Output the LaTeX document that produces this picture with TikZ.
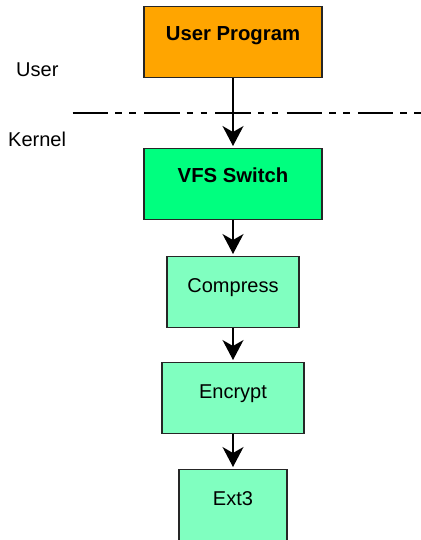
\documentclass[tikz,border=0pt]{standalone}
\usepackage{fontspec}
\setmainfont{Liberation Sans}
\usetikzlibrary{arrows.meta}
\definecolor{orangebox}{RGB}{255,165,0}
\definecolor{vfsgreen}{RGB}{0,255,127}
\definecolor{lightgreen}{RGB}{128,255,192}
\begin{document}
\begin{tikzpicture}[x=1pt,y=-1pt,
  box/.style={draw=black!85, line width=1.3pt, inner sep=0pt, text height=35.5pt, text depth=35.5pt, anchor=north, font=\fontsize{20}{24}\selectfont},
  boldbox/.style={box, text height=34pt, text depth=37pt, font=\fontsize{20.3}{24}\selectfont\bfseries},
  lbl/.style={inner sep=0pt, anchor=base west, font=\fontsize{20}{24}\selectfont},
  arr/.style={line width=1.3pt, -{Stealth[length=20pt,width=21pt,inset=6pt]}, shorten >=2pt},
  sepline/.style={line width=1.3pt, dash pattern=on 35.5pt off 7pt on 6.5pt off 7.5pt on 6.5pt off 8.3pt}]
\useasboundingbox (0,0) rectangle (420,540);
\node[boldbox, fill=orangebox, minimum width=178pt] (up) at (233,6) {User Program};
\node[boldbox, fill=vfsgreen, minimum width=178pt] (vfs) at (233,148) {VFS Switch};
\node[box, fill=lightgreen, minimum width=132pt] (comp) at (233,256) {Compress};
\node[box, fill=lightgreen, minimum width=142pt] (enc) at (233,362) {Encrypt};
\node[box, fill=lightgreen, minimum width=108pt] (ext) at (233,469) {Ext3};
\node[lbl] (user) at (16,76.7) {User};
\node[lbl] (kernel) at (8,146.7) {Kernel};
\coordinate (ls) at (72.7,113);
\coordinate (le) at (421,113);
\draw[sepline] (ls) -- (le);
\draw[arr] (up) -- (vfs);
\draw[arr] (vfs) -- (comp);
\draw[arr] (comp) -- (enc);
\draw[arr] (enc) -- (ext);
\end{tikzpicture}
\end{document}
